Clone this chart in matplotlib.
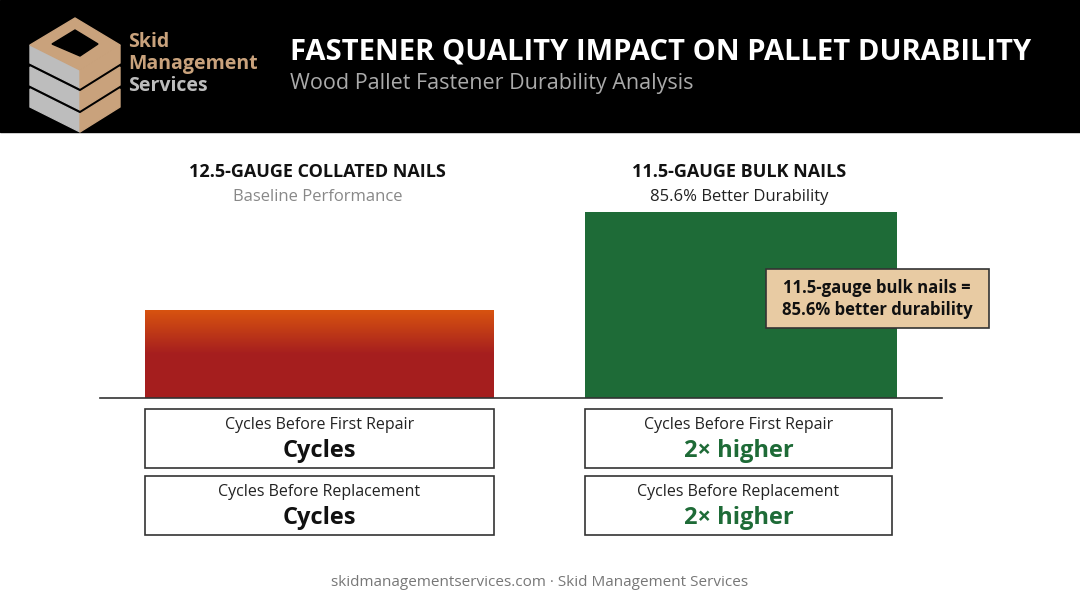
import matplotlib
matplotlib.use("Agg")
import matplotlib.pyplot as plt
import numpy as np
from matplotlib.patches import Rectangle, Polygon

categories = ["12.5-GAUGE COLLATED NAILS", "11.5-GAUGE BULK NAILS"]
subtitles = ["Baseline Performance", "85.6% Better Durability"]
values = [1.0, 2.11]
metric_labels = ["Cycles Before First Repair", "Cycles Before Replacement"]
metric_values = [["Cycles", "Cycles"], ["2\u00d7 higher", "2\u00d7 higher"]]
callout = "11.5-gauge bulk nails =\n85.6% better durability"

W, H = 1080, 603
fig = plt.figure(figsize=(10.8, 6.03), dpi=100)
plt.rcParams['font.family'] = ['Open Sans', 'DejaVu Sans']
bg = fig.add_axes([0, 0, 1, 1]); bg.set_xlim(0, W); bg.set_ylim(H, 0); bg.axis('off')
bg.add_patch(Rectangle((0, 0), W, 132, color='black'))

# logo
tan, gray = '#C9A27C', '#BDBDBD'
for k, dy in enumerate([0, 22, 44]):
    bg.add_patch(Polygon([[30, 45+dy], [80, 70+dy], [80, 88+dy], [30, 63+dy]], color=gray))
    bg.add_patch(Polygon([[80, 70+dy], [120, 45+dy], [120, 63+dy], [80, 88+dy]], color=tan))
bg.add_patch(Polygon([[30, 45], [75, 18], [120, 45], [80, 70]], color=tan))
bg.add_patch(Polygon([[52, 44], [75, 30], [98, 44], [80, 56]], color='black'))
bg.text(128, 42, "Skid", color=tan, fontsize=14, fontweight='bold', va='center')
bg.text(128, 64, "Management", color=tan, fontsize=14, fontweight='bold', va='center')
bg.text(128, 86, "Services", color=gray, fontsize=14, fontweight='bold', va='center')

bg.text(290, 52, "FASTENER QUALITY IMPACT ON PALLET DURABILITY", color='white',
        fontsize=21, fontweight='bold', va='center')
bg.text(290, 83, "Wood Pallet Fastener Durability Analysis", color='#AAAAAA',
        fontsize=15.5, va='center')

centers = [319.5, 741]
widths = [349, 312]
box_w = [349, 307]

ax = fig.add_axes([100/W, 1-398/H, 842/W, 258/H])
ax.set_xlim(100, 942); ax.axis('off')
ax.patch.set_alpha(0)
bars = ax.bar(centers, values, width=widths, color=['#A51E1E', '#1E6B37'], zorder=2)
r = bars[0]
x0, w, h = r.get_x(), r.get_width(), r.get_height()
t = np.linspace(0, 1, 100)[:, None]
c1 = np.array([0.85, 0.33, 0.06]); c2 = np.array([0.65, 0.12, 0.12])
f = np.clip(t/0.5, 0, 1)
img = (c1*(1-f)+c2*f)[:, None, :].repeat(2, axis=1)
im = ax.imshow(img, extent=[x0, x0+w, 0, h], origin='upper', aspect='auto', zorder=3)
im.set_clip_path(r)
ax.set_xlim(100, 942)
ax.set_ylim(0, 2.11*258/186)

top = fig.add_axes([0, 0, 1, 1]); top.set_xlim(0, W); top.set_ylim(H, 0); top.axis('off')
top.patch.set_alpha(0)
top.plot([100, 942], [398, 398], color='#333333', lw=1.2)

for i in range(2):
    top.text(centers[i]-2, 172, categories[i], ha='center', va='center', fontsize=13, fontweight='bold', color='#111111')
    top.text(centers[i]-2, 197, subtitles[i], ha='center', va='center', fontsize=12,
             color='#888888' if i == 0 else '#222222')
    for j, y0 in enumerate([409, 476]):
        bx = 145 if i == 0 else 585
        top.add_patch(Rectangle((bx, y0), box_w[i], 59, fill=False, ec='#333333', lw=1.2))
        cx = bx + box_w[i]/2
        top.text(cx, y0+16, metric_labels[j], ha='center', va='center', fontsize=11.5, color='#222222')
        top.text(cx, y0+42, metric_values[i][j], ha='center', va='center', fontsize=17, fontweight='bold',
                 color='#111111' if i == 0 else '#1E6B37')

top.add_patch(Rectangle((766, 269), 223, 59, fc='#E8CBA3', ec='#333333', lw=1.2, zorder=5))
top.text(877, 299, callout, ha='center', va='center', fontsize=12, fontweight='bold', color='#111111', zorder=6, linespacing=1.3)

top.text(540, 582, "skidmanagementservices.com \u00b7 Skid Management Services", ha='center', va='center',
         fontsize=11, color='#777777')
fig.savefig("out.png", dpi=100)
